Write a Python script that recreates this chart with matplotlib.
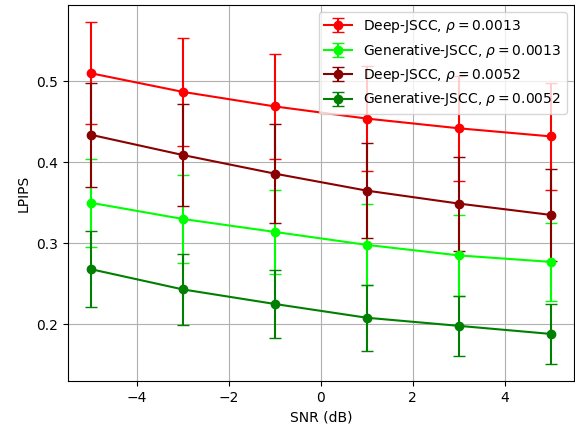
import matplotlib
matplotlib.use("Agg")
import matplotlib.pyplot as plt

snr = [-5, -3, -1, 1, 3, 5]

deep_0013 = [0.510, 0.487, 0.469, 0.454, 0.442, 0.432]
deep_0013_err = [0.063, 0.067, 0.065, 0.065, 0.065, 0.066]

gen_0013 = [0.350, 0.330, 0.314, 0.298, 0.285, 0.277]
gen_0013_err = [0.054, 0.054, 0.052, 0.050, 0.050, 0.048]

deep_0052 = [0.434, 0.409, 0.386, 0.365, 0.349, 0.335]
deep_0052_err = [0.064, 0.063, 0.061, 0.059, 0.058, 0.057]

gen_0052 = [0.268, 0.243, 0.225, 0.208, 0.198, 0.188]
gen_0052_err = [0.047, 0.044, 0.042, 0.041, 0.037, 0.037]

labels = [r"Deep-JSCC, $\rho = 0.0013$", r"Generative-JSCC, $\rho = 0.0013$",
          r"Deep-JSCC, $\rho = 0.0052$", r"Generative-JSCC, $\rho = 0.0052$"]
colors = ["#ff0000", "#00ff00", "#8b0000", "#008000"]

fig = plt.figure(figsize=(5.75, 4.3), dpi=100)
ax = fig.add_axes([0.118, 0.114, 0.880, 0.874])

series = [(deep_0013, deep_0013_err), (gen_0013, gen_0013_err),
          (deep_0052, deep_0052_err), (gen_0052, gen_0052_err)]
for (vals, errs), lab, c in zip(series, labels, colors):
    ax.errorbar(snr, vals, yerr=errs, label=lab, color=c, marker='o',
                markersize=6, linewidth=1.5, capsize=4, elinewidth=1.5)

ax.set_xlabel("SNR (dB)")
ax.set_ylabel("LPIPS")
ax.set_xticks([-4, -2, 0, 2, 4])
ax.set_yticks([0.2, 0.3, 0.4, 0.5])
ax.grid(True)
ax.legend(loc="upper right")

fig.savefig("out.png", dpi=100)
